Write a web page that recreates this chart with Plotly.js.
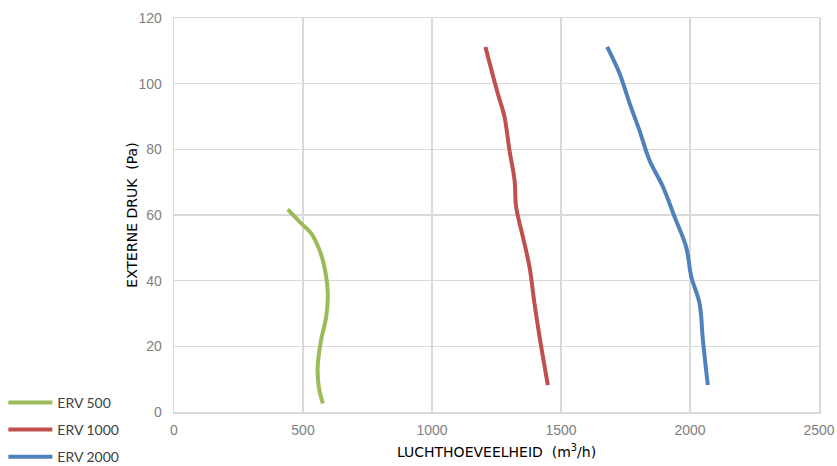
<!DOCTYPE html>
<html>
<head>
<meta charset="utf-8">
<script src="https://cdn.plot.ly/plotly-3.0.1.min.js"></script>
<style>html,body{margin:0;padding:0;background:#fff;}#chart{width:837px;height:466px;}</style>
</head>
<body>
<div id="chart"></div>
<script>
// Data
const seriesNames = ["ERV 500", "ERV 1000", "ERV 2000"];
const erv500Flow = [441, 486, 532, 564, 583, 596, 590, 570, 557, 561, 577];
const erv500Pressure = [61.7, 58, 54.4, 49.3, 44.2, 36.1, 29, 21.9, 13.8, 7.7, 2.6];
const erv1000Flow = [1207, 1255, 1281, 1300, 1320, 1326, 1352, 1378, 1397, 1417, 1449];
const erv1000Pressure = [111.2, 97, 89.9, 79.8, 70.6, 62.5, 53.4, 44.2, 33.1, 22.9, 8.2];
const erv2000Flow = [1679, 1727, 1766, 1804, 1843, 1895, 1940, 1985, 2005, 2037, 2050, 2069];
const erv2000Pressure = [111.2, 103.1, 94, 85.8, 76.7, 68.6, 59.5, 50.3, 41.2, 33.1, 21.9, 8.2];
const colors = ["#9BBB59", "#C0504D", "#4F81BD"];
const xTicks = [0, 500, 1000, 1500, 2000, 2500];
const yTicks = [0, 20, 40, 60, 80, 100, 120];

const xs = [erv500Flow, erv1000Flow, erv2000Flow];
const ys = [erv500Pressure, erv1000Pressure, erv2000Pressure];
const traces = seriesNames.map((n, i) => ({
  x: xs[i], y: ys[i], name: n, type: "scatter", mode: "lines",
  legendgroup: "g" + i,
  line: {color: colors[i], width: 4, shape: "spline", smoothing: 1}
}));

const titleFont = {family: "'DejaVu Sans', sans-serif", size: 14, color: "#000"};
const tickFont = {family: "'Liberation Sans', Arial, sans-serif", size: 14, color: "#808080"};
const layout = {
  width: 837, height: 466,
  margin: {l: 174, r: 18, t: 18, b: 54, autoexpand: false},
  paper_bgcolor: "#fff", plot_bgcolor: "#fff",
  showlegend: true,
  legend: {
    xref: "container", yref: "container",
    x: 0.004, y: 0.17, xanchor: "left", yanchor: "top",
    font: {family: "Lato, 'Noto Sans', sans-serif", size: 14, color: "#404040"},
    traceorder: "grouped", tracegroupgap: 6, itemwidth: 44
  },
  xaxis: {
    range: [0, 2500], tickvals: xTicks, ticktext: xTicks.map(String),
    showgrid: true, gridcolor: "#D9D9D9", gridwidth: 1.5,
    showline: true, linecolor: "#D9D9D9", linewidth: 1.5, mirror: true,
    zeroline: false, ticks: "", automargin: false, ticklabelstandoff: 5,
    tickfont: tickFont,
    title: {text: "LUCHTHOEVEELHEID  (m<sup>3</sup>/h)", font: titleFont, standoff: 10},
    fixedrange: true
  },
  yaxis: {
    range: [0, 120], tickvals: yTicks, ticktext: yTicks.map(v => v + "\u00a0\u00a0"),
    showgrid: true, gridcolor: "#D9D9D9", gridwidth: 1.5,
    showline: true, linecolor: "#D9D9D9", linewidth: 1.5, mirror: true,
    zeroline: false, ticks: "", automargin: false,
    tickfont: tickFont,
    title: {text: "EXTERNE DRUK  (Pa)", font: titleFont, standoff: 16},
    fixedrange: true
  }
};
Plotly.newPlot("chart", traces, layout, {displayModeBar: false, staticPlot: true});
</script>
</body>
</html>
